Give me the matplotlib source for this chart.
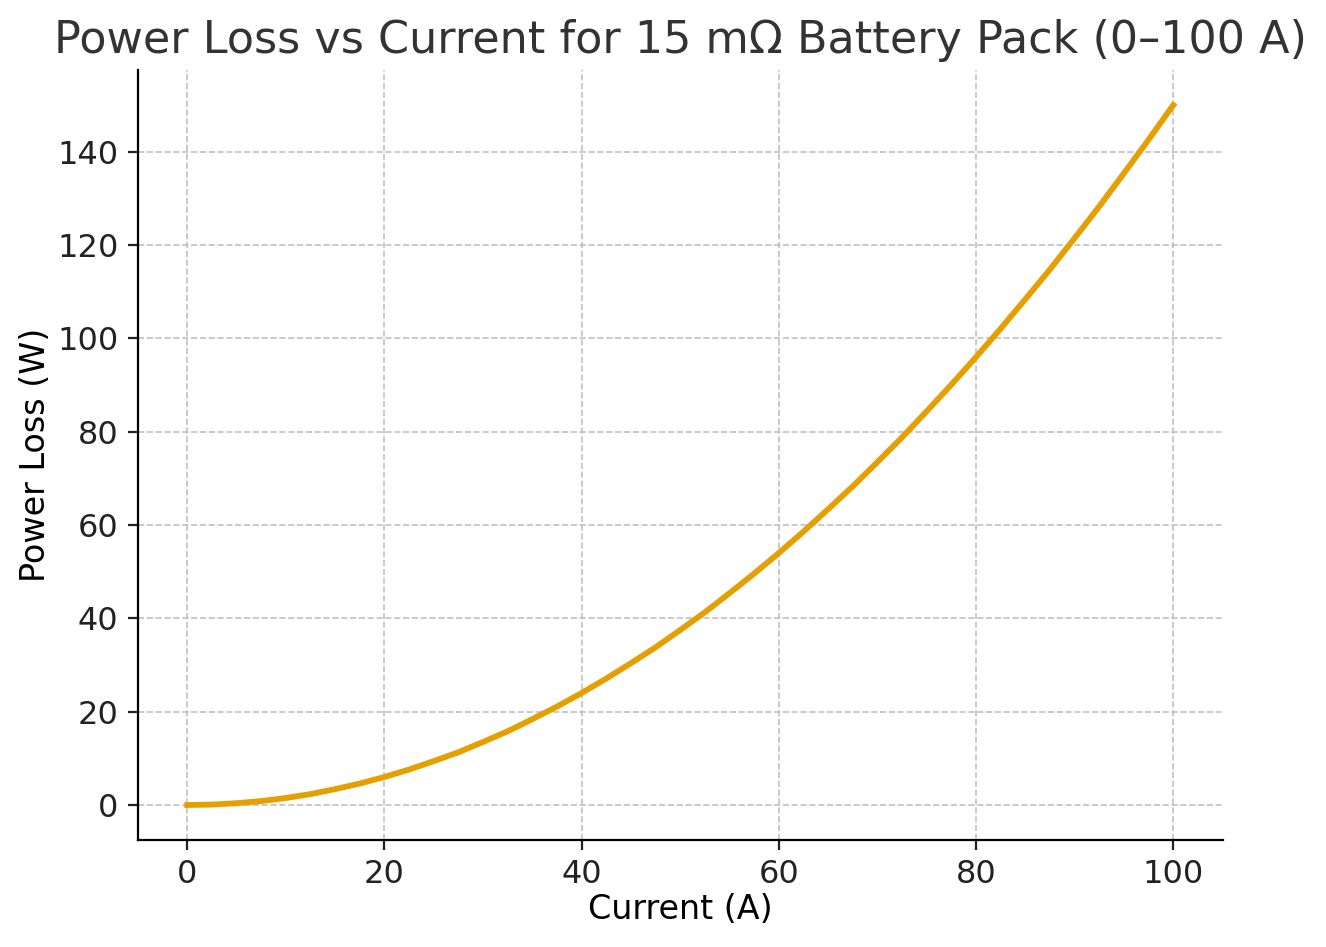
import matplotlib

matplotlib.use("Agg")
import matplotlib.pyplot as plt  # noqa: E402

# values (current in A, power loss in W)
current_a = [0, 2.5, 5, 7.5, 10, 12.5, 15, 17.5, 20, 22.5, 25, 27.5, 30,
             32.5, 35, 37.5, 40, 42.5, 45, 47.5, 50, 52.5, 55, 57.5, 60,
             62.5, 65, 67.5, 70, 72.5, 75, 77.5, 80, 82.5, 85, 87.5, 90,
             92.5, 95, 97.5, 100]
power_loss_w = [0, 0.09, 0.375, 0.84, 1.5, 2.34, 3.4, 4.6, 6, 7.6, 9.4,
                11.3, 13.5, 15.8, 18.4, 21.1, 24, 27.1, 30.4, 33.8, 37.5,
                41.3, 45.4, 49.6, 54, 58.6, 63.4, 68.3, 73.5, 78.8, 84.4,
                90.1, 96, 102.1, 108.4, 114.8, 121.5, 128.3, 135.4, 142.6,
                150]

TITLE = "Power Loss vs Current for 15 m\u03a9 Battery Pack (0\u2013100 A)"

plt.rcParams["text.color"] = "#333333"

fig, ax = plt.subplots(figsize=(6.63, 4.735))
ax.plot(current_a, power_loss_w, color="#E69F00", linewidth=2.1)
ax.set_title(TITLE, fontsize=16, color="#333333")
ax.set_xlabel("Current (A)", fontsize=12, labelpad=1)
ax.set_ylabel("Power Loss (W)", fontsize=12, labelpad=2)
ax.tick_params(labelsize=11.5, colors="#222222")
ax.grid(True, linestyle="--", color="#bbbbbb", linewidth=0.6, alpha=0.9)
ax.spines["top"].set_visible(False)
ax.spines["right"].set_visible(False)
fig.subplots_adjust(left=0.104, right=0.922, top=0.926, bottom=0.113)
fig.savefig("out.png", dpi=200)
plt.close(fig)
